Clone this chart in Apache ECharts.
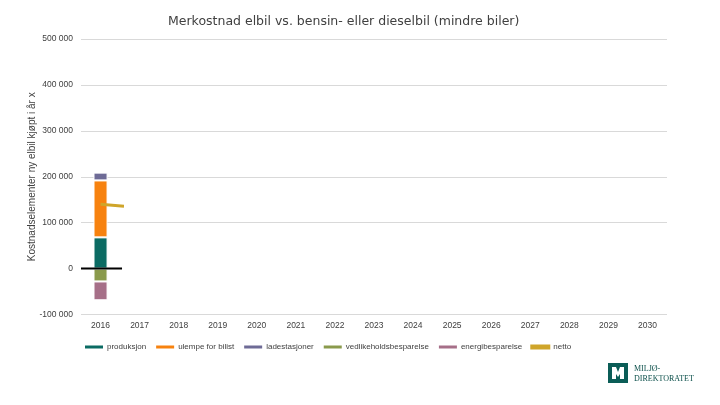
<!DOCTYPE html>
<html>
<head>
<meta charset="utf-8">
<script src="https://cdn.jsdelivr.net/npm/echarts@6/dist/echarts.min.js"></script>
<style>html,body{margin:0;padding:0;background:#fff;}#c{width:720px;height:405px;}</style>
</head>
<body>
<div id="c"></div>
<script>
var years = ['2016','2017','2018','2019','2020','2021','2022','2023','2024','2025','2026','2027','2028','2029','2030'];
var produksjon = [68000];
var ulempe = [124000];
var ladestasjoner = [17000];
var vedlikehold = [-28000];
var energi = [-41000];
// netto line, partially drawn in the reference (x as year value)
var netto = [[2016, 140000], [2016.6, 136000]];
var nullLinje = [[2015.5, 0], [2016.55, 0]];
var yTicks = [-100000, 0, 100000, 200000, 300000, 400000, 500000];

var font = 'Liberation Sans';
function fmt(v){ return String(v).replace(/\B(?=(\d{3})+(?!\d))/g, ' '); }

var chart = echarts.init(document.getElementById('c'), null, {renderer:'canvas'});
function barSeries(name, data, color){
  return {name:name, type:'bar', stack:'s', data:data, barWidth:'36%',
    itemStyle:{color:color, borderColor:'#fff', borderWidth:1}, xAxisIndex:0, silent:true};
}
chart.setOption({
  animation:false,
  backgroundColor:'#fff',
  title:{text:'Merkostnad elbil vs. bensin- eller dieselbil (mindre biler)', left:163, top:10,
    textStyle:{fontFamily:'DejaVu Sans', fontSize:12.5, fontWeight:'normal', color:'#404040'}},
  grid:{left:81, right:53, top:39, bottom:90.5, containLabel:false},
  legend:{data:['produksjon','ulempe for bilist','ladestasjoner','vedlikeholdsbesparelse','energibesparelse','netto'],
    left:83, top:343, padding:0, icon:'rect', itemWidth:20, itemHeight:5, itemGap:8,
    textStyle:{fontFamily:font, fontSize:8, color:'#404040', padding:[0,0,0,-2]}},
  xAxis:[{type:'category', data:years, axisLine:{show:false}, axisTick:{show:false},
      axisLabel:{fontFamily:font, fontSize:8.5, color:'#404040', margin:7}},
    {type:'value', min:2015.5, max:2030.5, show:false}],
  yAxis:{type:'value', min:-100000, max:500000, interval:100000,
    name:'Kostnadselementer ny elbil kjøpt i år x', nameLocation:'middle', nameGap:44, nameRotate:90,
    nameMoveOverlap:false,
    nameTextStyle:{fontFamily:font, fontSize:10, color:'#404040'},
    axisLine:{show:false}, axisTick:{show:false},
    axisLabel:{fontFamily:font, fontSize:8.5, color:'#404040', margin:8, formatter:function(v){return fmt(v);}},
    splitLine:{lineStyle:{color:yTicks.map(function(t){return t===0?'rgba(0,0,0,0)':'#d9d9d9';}), width:1}}},
  series:[
    barSeries('produksjon', produksjon, '#0b6b63'),
    barSeries('ulempe for bilist', ulempe, '#f7820f'),
    barSeries('ladestasjoner', ladestasjoner, '#6e6b96'),
    barSeries('vedlikeholdsbesparelse', vedlikehold, '#8a9a4c'),
    barSeries('energibesparelse', energi, '#a66f88'),
    {name:'netto', type:'line', xAxisIndex:1, data:netto, symbol:'none',
      lineStyle:{color:'#cfa52a', width:3}, itemStyle:{color:'#cfa52a'}, z:5},
    {name:'null', type:'line', xAxisIndex:1, data:nullLinje, symbol:'none',
      lineStyle:{color:'#000', width:2}, z:6}
  ],
  graphic:[
    {type:'rect', left:608, top:363, shape:{width:20, height:20}, style:{fill:'#0b5d57'}},
    {type:'polygon', shape:{points:[[612,367],[616,367],[618,372],[620,367],[624,367],[624,379],[620,379],[620,374],[618,377],[616,374],[616,379],[612,379]]}, style:{fill:'#fff'}},
    {type:'text', left:634, top:364, style:{text:'MILJØ-\nDIREKTORATET', font:'8px "Liberation Serif"', fill:'#0b4f4a', lineHeight:10}}
  ]
});
</script>
</body>
</html>
